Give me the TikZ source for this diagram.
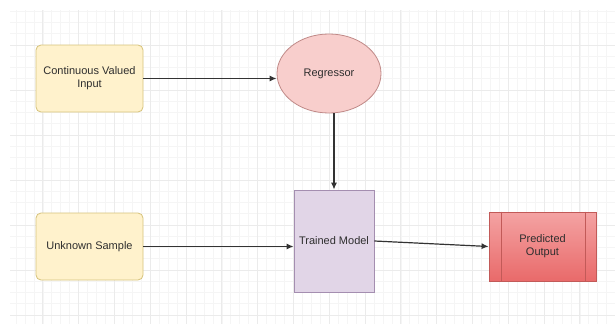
\documentclass[tikz,border=0pt]{standalone}
\usepackage{fontspec}
\setmainfont{Liberation Sans}
\usetikzlibrary{shapes.geometric,arrows.meta,calc}
\definecolor{yfill}{HTML}{FFF2CC}
\definecolor{ydraw}{HTML}{D6C27A}
\definecolor{rfill}{HTML}{F8CECC}
\definecolor{rdraw}{HTML}{C08A88}
\definecolor{pfill}{HTML}{E1D5E7}
\definecolor{pdraw}{HTML}{A48EB0}
\definecolor{txt}{HTML}{2E2E2E}
\definecolor{gminor}{HTML}{F5F5F5}
\definecolor{gmajor}{HTML}{EBEBEB}
\definecolor{arr}{HTML}{333333}
\definecolor{potop}{HTML}{F4A3A3}
\definecolor{pobot}{HTML}{E96A6A}
\definecolor{podraw}{HTML}{C25A58}
\tikzset{
  lbl/.style={font=\fontsize{11}{13}\selectfont, text=txt, align=center, inner sep=0pt},
  ybox/.style={lbl, rectangle, rounded corners=5pt, fill=yfill, draw=ydraw, line width=0.8pt, minimum width=107pt, minimum height=67pt},
  regbox/.style={lbl, ellipse, fill=rfill, draw=rdraw, line width=0.8pt, minimum width=104pt, minimum height=79pt},
  tmbox/.style={lbl, rectangle, fill=pfill, draw=pdraw, line width=0.8pt, minimum width=80pt, minimum height=102pt},
  pobox/.style={lbl, rectangle, top color=potop, bottom color=pobot, draw=podraw, line width=0.8pt, minimum width=107pt, minimum height=69pt},
  conn/.style={draw=arr, line width=1.2pt, -{Latex[length=7pt,width=6pt]}},
}
\begin{document}
\begin{tikzpicture}[x=1pt,y=-1pt]
\useasboundingbox (0,0) rectangle (615,324);
\fill[white] (0,0) rectangle (615,324);
% grid
\foreach \i in {1,...,67} {
  \pgfmathsetmacro{\xx}{7+\i*8.95}
  \ifdim \xx pt>10pt \draw[gminor, line width=0.6pt] (\xx,10) -- (\xx,324); \fi
}
\foreach \i in {0,...,35} {
  \pgfmathsetmacro{\yy}{\i*11.25}
  \ifdim \yy pt>10pt \draw[gminor, line width=0.6pt] (10,\yy) -- (615,\yy); \fi
}
\foreach \i in {1,...,17} {
  \pgfmathsetmacro{\xx}{7+\i*35.8}
  \draw[gmajor, line width=0.8pt] (\xx,10) -- (\xx,324);
}
\foreach \i in {1,...,7} {
  \pgfmathsetmacro{\yy}{\i*45}
  \draw[gmajor, line width=0.8pt] (10,\yy) -- (615,\yy);
}
% nodes
\node[ybox] (ci) at (89.5,78.5) {Continuous Valued\\Input};
\node[ybox] (us) at (89.5,246.5) {Unknown Sample};
\node[regbox] (reg) at (329,73.5) {Regressor};
\node[tmbox] (tm) at (334,241) {Trained Model};
\node[pobox] (po) at (542.5,246.5) {Predicted\\Output};
\draw[podraw, line width=0.8pt] ($(po.north west)+(13,0)$) -- ($(po.south west)+(13,0)$);
\draw[podraw, line width=0.8pt] ($(po.north east)+(-11,0)$) -- ($(po.south east)+(-11,0)$);
% connectors
\coordinate (regin) at (ci.east -| reg.west);
\draw[conn] (ci.east) -- (regin);
\coordinate (regout) at (tm.north |- reg.south);
\draw[conn] (regout) -- (tm.north);
\draw[conn] (us.east) -- (us.east -| tm.west);
\draw[conn] (tm.east) -- (po.west);
\end{tikzpicture}
\end{document}
